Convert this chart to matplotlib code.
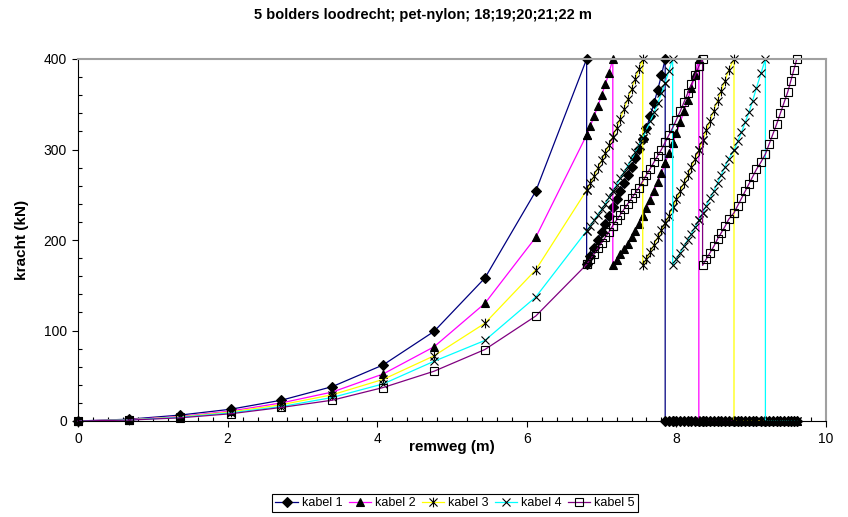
import numpy as np
import matplotlib
matplotlib.use('Agg')
matplotlib.rc('font', **{'family': 'sans-serif', 'sans-serif': ['Liberation Sans', 'DejaVu Sans']})
import matplotlib.pyplot as plt
from matplotlib.path import Path
from matplotlib.ticker import MultipleLocator

TITLE = '5 bolders loodrecht; pet-nylon; 18;19;20;21;22 m'
X_LABEL = 'remweg (m)'
Y_LABEL = 'kracht (kN)'

series_names = ['kabel 1', 'kabel 2', 'kabel 3', 'kabel 4', 'kabel 5']

# remweg (m), shared by all cables; repeated values = load jump at one position
remweg = [
    0.00, 0.68, 1.36, 2.04, 2.72, 3.40, 4.08, 4.76, 5.44, 6.12, 6.80,
    6.80, 6.85, 6.90, 6.95, 7.00, 7.05, 7.10, 7.15,
    7.15, 7.20, 7.25, 7.30, 7.35, 7.40, 7.45, 7.50, 7.55,
    7.55, 7.60, 7.65, 7.70, 7.75, 7.80, 7.85,
    7.85, 7.90, 7.95,
    7.95, 8.00, 8.05, 8.10, 8.15, 8.20, 8.25, 8.30,
    8.30, 8.35,
    8.35, 8.40, 8.45, 8.50, 8.55, 8.60, 8.65, 8.70, 8.77,
    8.77, 8.82, 8.87, 8.92, 8.97, 9.02, 9.07, 9.13, 9.19,
    9.19, 9.24, 9.29, 9.34, 9.39, 9.44, 9.49, 9.53, 9.57, 9.61,
]

# kracht (kN)
kabel_1 = [
    0, 2, 6.5, 13, 23, 38, 62, 99, 158, 254, 400,
    173, 182, 191, 200, 209, 218, 227, 236,
    236, 245, 254, 263, 272, 281, 291, 301, 312,
    312, 324, 337, 351, 366, 382, 400,
    0, 0, 0,
    0, 0, 0, 0, 0, 0, 0, 0,
    0, 0,
    0, 0, 0, 0, 0, 0, 0, 0, 0,
    0, 0, 0, 0, 0, 0, 0, 0, 0,
    0, 0, 0, 0, 0, 0, 0, 0, 0, 0,
]
kabel_2 = [
    0, 1.5, 5, 11, 20, 32, 52, 82, 130, 203, 316,
    316, 326, 337, 348, 360, 372, 385, 400,
    172, 178, 184, 190, 196, 203, 210, 218, 226,
    226, 235, 244, 254, 264, 274, 285,
    285, 296, 307,
    307, 318, 330, 342, 355, 368, 383, 400,
    0, 0,
    0, 0, 0, 0, 0, 0, 0, 0, 0,
    0, 0, 0, 0, 0, 0, 0, 0, 0,
    0, 0, 0, 0, 0, 0, 0, 0, 0, 0,
]
kabel_3 = [
    0, 1.3, 4.5, 10, 18, 29, 46, 72, 108, 167, 255,
    255, 263, 271, 280, 288, 296, 305, 314,
    314, 324, 334, 345, 356, 367, 378, 389, 400,
    172, 179, 187, 195, 203, 211, 219,
    219, 227, 236,
    236, 245, 254, 263, 272, 281, 290, 299,
    299, 310,
    310, 321, 332, 343, 354, 365, 376, 388, 400,
    0, 0, 0, 0, 0, 0, 0, 0, 0,
    0, 0, 0, 0, 0, 0, 0, 0, 0, 0,
]
kabel_4 = [
    0, 1.2, 4, 9, 16, 26, 41, 66, 89, 137, 210,
    210, 216, 222, 228, 234, 240, 247, 254,
    254, 261, 268, 275, 282, 289, 297, 305, 313,
    313, 322, 331, 341, 351, 362, 374,
    374, 387, 400,
    172, 179, 186, 193, 200, 207, 214, 222,
    222, 230,
    230, 238, 246, 254, 263, 272, 281, 290, 299,
    299, 309, 319, 330, 341, 354, 368, 384, 400,
    0, 0, 0, 0, 0, 0, 0, 0, 0, 0,
]
kabel_5 = [
    0, 1, 3.5, 8, 15, 23, 37, 55, 79, 116, 173,
    173, 179, 185, 191, 197, 203, 209, 216,
    216, 222, 228, 234, 240, 246, 252, 258, 265,
    265, 272, 279, 286, 293, 300, 308,
    308, 316, 324,
    324, 333, 342, 352, 362, 372, 382, 392,
    392, 400,
    172, 179, 186, 193, 201, 208, 215, 223, 230,
    230, 238, 246, 254, 262, 270, 278, 286, 295,
    295, 306, 317, 328, 340, 352, 364, 376, 388, 400,
]

line_colors = ['#000080', '#FF00FF', '#FFFF00', '#00FFFF', '#800080']

# Excel style star: an x with a vertical bar through it.
_star = Path(
    [(-1, -1), (1, 1), (-1, 1), (1, -1), (0, -1.2), (0, 1.2)],
    [Path.MOVETO, Path.LINETO, Path.MOVETO, Path.LINETO, Path.MOVETO, Path.LINETO])

marker_styles = [
    dict(marker='D', markersize=5.2, markerfacecolor='black'),
    dict(marker='^', markersize=6.3, markerfacecolor='black'),
    dict(marker=_star, markersize=7, markerfacecolor='none'),
    dict(marker='x', markersize=6.2, markerfacecolor='none'),
    dict(marker='s', markersize=6.3, markerfacecolor='none'),
]


def draw():
    W, H = 848, 517
    fig = plt.figure(figsize=(W / 100, H / 100), dpi=100)
    left, right, top, bottom = 78, 826, 59, 421
    ax = fig.add_axes([left / W, 1 - bottom / H, (right - left) / W, (bottom - top) / H])

    all_series = [kabel_1, kabel_2, kabel_3, kabel_4, kabel_5]
    for name, values, color, style in zip(series_names, all_series, line_colors, marker_styles):
        ax.plot(remweg, values, color=color, linewidth=0.9, markeredgecolor='black',
                markeredgewidth=0.8, clip_on=False, label=name, **style)

    ax.set_xlim(0, 10)
    ax.set_ylim(0, 400)
    ax.xaxis.set_major_locator(MultipleLocator(2))
    ax.xaxis.set_minor_locator(MultipleLocator(0.2))
    ax.yaxis.set_major_locator(MultipleLocator(100))
    ax.yaxis.set_minor_locator(MultipleLocator(20))
    ax.tick_params(which='major', direction='out', length=4, width=0.8, labelsize=10, pad=4,
                   top=False, right=False)
    ax.tick_params(which='minor', direction='in', length=3, width=0.8, top=False, right=False)

    for side in ['top', 'right']:
        ax.spines[side].set_color('#a0a0a0')
        ax.spines[side].set_linewidth(1.5)
    for side in ['left', 'bottom']:
        ax.spines[side].set_color('black')
        ax.spines[side].set_linewidth(0.8)

    fig.text(423 / W, 1 - 15 / H, TITLE, ha='center', va='center', fontsize=10.5, fontweight='bold')
    fig.text(452 / W, 1 - 447 / H, X_LABEL, ha='center', va='center', fontsize=11, fontweight='bold')
    fig.text(22 / W, 1 - 240 / H, Y_LABEL, ha='center', va='center', rotation=90,
             fontsize=11, fontweight='bold')

    leg = fig.legend(loc='center', bbox_to_anchor=(455 / W, 1 - 503 / H), ncol=5, fontsize=9,
                     frameon=True, fancybox=False, edgecolor='black', framealpha=1,
                     handlelength=1.8, handletextpad=0.3, columnspacing=0.5,
                     borderpad=0.25, borderaxespad=0)
    leg.get_frame().set_linewidth(0.8)

    fig.savefig('out.png', dpi=100)


if __name__ == '__main__':
    draw()
